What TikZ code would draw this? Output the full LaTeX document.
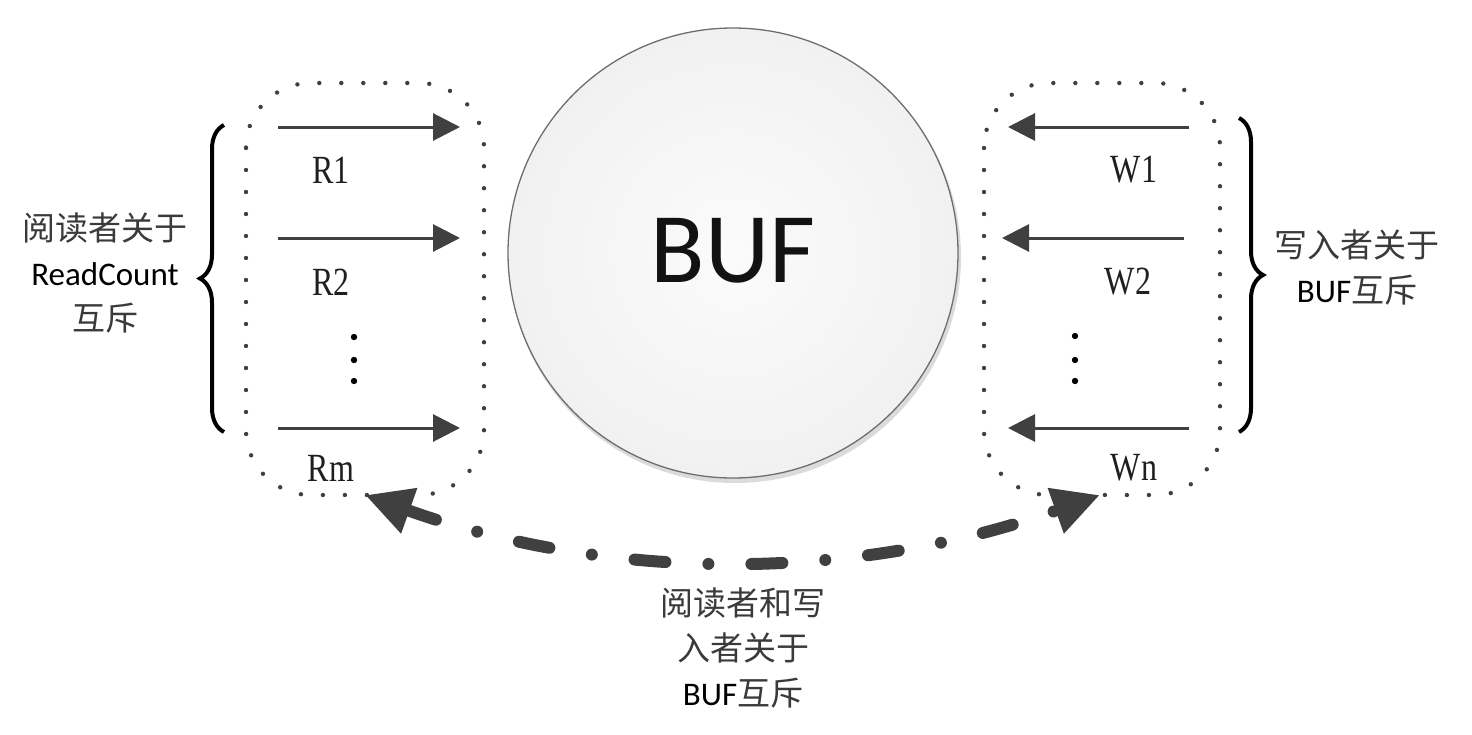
\documentclass[tikz,border=0pt]{standalone}
\usepackage{fontspec}
\setmainfont{Liberation Serif}
\newfontfamily\cjk{Noto Sans CJK SC}
\newfontfamily\lat{Carlito}
\usetikzlibrary{arrows.meta,decorations.pathreplacing,shadings}
\definecolor{ink}{HTML}{404040}
\definecolor{txt}{HTML}{3A3A3A}
\definecolor{rim}{HTML}{6E6E6E}
\tikzset{
  dotbox/.style={draw=ink, line width=4.4pt, line cap=round, dash pattern=on 0pt off 22pt, rounded corners=65pt},
  flow/.style={draw=ink, line width=3pt, -{Triangle[length=27pt,width=27pt]}},
  mutex/.style={draw=ink, line width=12pt, line cap=round, dash pattern=on 31pt off 43pt on 0pt off 43pt,
     {Triangle[length=47pt,width=45pt]}-{Triangle[length=47pt,width=45pt]}},
  bracemark/.style={draw=black, line width=4pt, decorate, decoration={brace, amplitude=24pt}},
  proc/.style={inner sep=0pt, text=black!88, font=\fontsize{40}{40}\selectfont},
  note/.style={inner sep=0pt, align=center, text=txt, font=\cjk\fontsize{33}{45}\selectfont},
  dotmark/.style={fill=black},
}
\newcommand{\narrow}[1]{\scalebox{0.8}[1]{#1}}
\newcommand{\latin}[1]{{\lat\color{black}#1}}
\begin{document}
\begin{tikzpicture}[x=1pt,y=-1pt]
\useasboundingbox (0,0) rectangle (1472,734);
% central buffer
\fill[gray!28] (735,257) circle (226);
\shade[inner color=gray!3, outer color=gray!11] (733,253) circle (225);
\node[circle, draw=rim, line width=1.3pt, minimum size=450pt, inner sep=0pt] (buf) at (733,253) {};
\node[inner sep=0pt, text=black!93, font=\lat\fontsize{100}{100}\selectfont] (buflabel) at (733,251) {BUF};
% dotted groups
\draw[dotbox] (246,83) rectangle (484,495);
\draw[dotbox] (984,83) rectangle (1220,495);
% reader arrows
\coordinate (r1s) at (278,127); \coordinate (r1e) at (460,127);
\coordinate (r2s) at (278,238); \coordinate (r2e) at (460,238);
\coordinate (rms) at (278,428); \coordinate (rme) at (460,428);
\draw[flow] (r1s) -- (r1e);
\draw[flow] (r2s) -- (r2e);
\draw[flow] (rms) -- (rme);
\node[proc] (R1) at (331,170) {\narrow{R1}};
\node[proc] (R2) at (331,282) {\narrow{R2}};
\node[proc] (Rm) at (331,468) {\narrow{Rm}};
\fill[dotmark] (354,337) circle (3.2) (354,360) circle (3.2) (354,381) circle (3.2);
% writer arrows
\coordinate (w1s) at (1189,127); \coordinate (w1e) at (1008,127);
\coordinate (w2s) at (1184,238); \coordinate (w2e) at (1002,238);
\coordinate (wns) at (1189,428); \coordinate (wne) at (1008,428);
\draw[flow] (w1s) -- (w1e);
\draw[flow] (w2s) -- (w2e);
\draw[flow] (wns) -- (wne);
\node[proc] (W1) at (1134,170) {\narrow{W1}};
\node[proc] (W2) at (1128,282) {\narrow{W2}};
\node[proc] (Wn) at (1134,468) {\narrow{Wn}};
\fill[dotmark] (1075,336) circle (3.2) (1075,360) circle (3.2) (1075,381) circle (3.2);
% braces
\coordinate (lb1) at (224,432); \coordinate (lb2) at (224,125);
\coordinate (rb1) at (1239,118); \coordinate (rb2) at (1239,432);
\draw[bracemark] (lb1) -- (lb2);
\draw[bracemark] (rb1) -- (rb2);
% notes
\node[note] (readnote) at (105,273) {阅读者关于\\\latin{ReadCount}\\互斥};
\node[note] (writenote) at (1357,268) {写入者关于\\\latin{BUF}互斥};
\node[note] (bothnote) at (743,648) {阅读者和写\\入者关于\\\latin{BUF}互斥};
% mutual exclusion arrow
\coordinate (la) at (365,495);
\coordinate (ra) at (1100,495);
\draw[mutex] (la) .. controls (609.7,582.3) and (854.7,582.3) .. (ra);
\end{tikzpicture}
\end{document}
